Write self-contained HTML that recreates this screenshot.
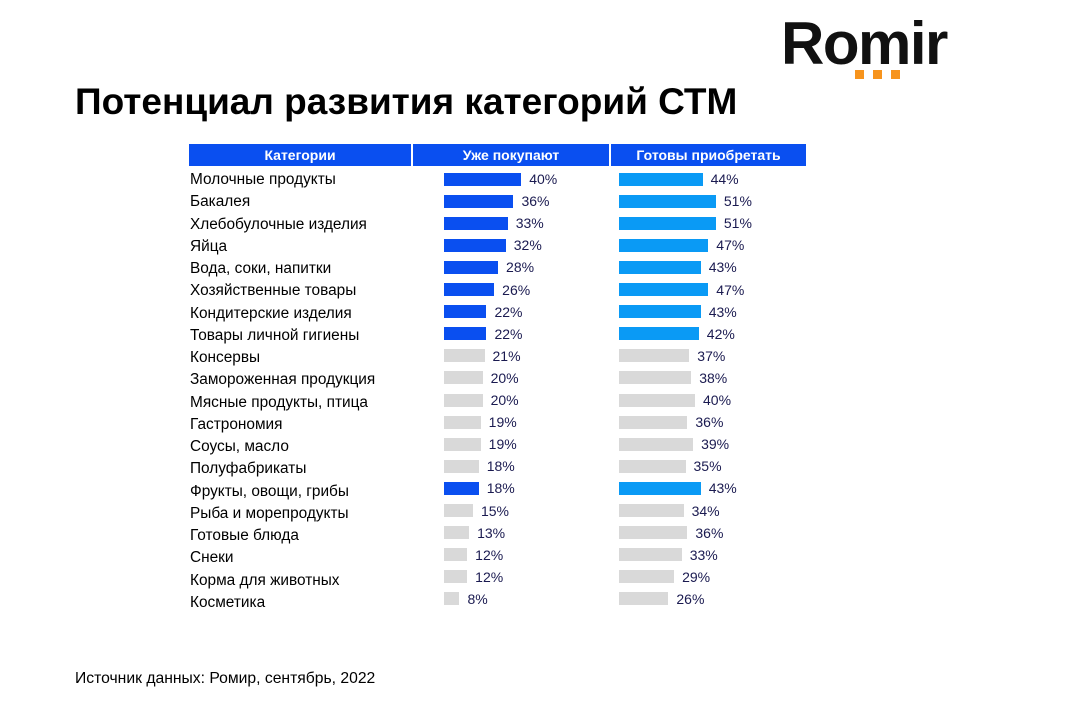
<!DOCTYPE html>
<html><head><meta charset="utf-8"><style>
body{margin:0;width:1066px;height:720px;background:#fff;position:relative;overflow:hidden;font-family:"Liberation Sans",sans-serif}
.a{position:absolute;white-space:nowrap}
.h{position:absolute;top:144px;height:22px;background:#0a4ff0;color:#fff;font-weight:bold;font-size:14px;line-height:22px;text-align:center}
.c{position:absolute;left:190px;font-size:15.4px;color:#000;line-height:18px;white-space:nowrap}
.b{position:absolute;height:13px}
.v{position:absolute;font-size:14px;color:#1a1a50;line-height:16px}
</style></head><body>
<div class="a" style="left:781px;top:9px;font-size:60px;font-weight:bold;color:#111;letter-spacing:-1.5px;line-height:70px">Romir</div>
<div class="a" style="left:855px;top:70px;width:9px;height:9px;background:#f7941d"></div>
<div class="a" style="left:873px;top:70px;width:9px;height:9px;background:#f7941d"></div>
<div class="a" style="left:891px;top:70px;width:9px;height:9px;background:#f7941d"></div>
<div class="a" style="left:75px;top:80px;font-size:37px;font-weight:bold;color:#000;line-height:44px">Потенциал развития категорий СТМ</div>
<div class="h" style="left:189px;width:222px">Категории</div>
<div class="h" style="left:413px;width:196px">Уже покупают</div>
<div class="h" style="left:611px;width:195px">Готовы приобретать</div>
<div id="rows"></div>
<div class="a" style="left:75px;top:670px;font-size:15.7px;color:#000">Источник данных: Ромир, сентябрь, 2022</div>
<script>
var d=[["Молочные продукты",40,44,1],["Бакалея",36,51,1],["Хлебобулочные  изделия",33,51,1],["Яйца",32,47,1],["Вода, соки, напитки",28,43,1],["Хозяйственные товары",26,47,1],["Кондитерские изделия",22,43,1],["Товары личной гигиены",22,42,1],["Консервы",21,37,0],["Замороженная продукция",20,38,0],["Мясные продукты, птица",20,40,0],["Гастрономия",19,36,0],["Соусы, масло",19,39,0],["Полуфабрикаты",18,35,0],["Фрукты, овощи, грибы",18,43,1],["Рыба и морепродукты",15,34,0],["Готовые блюда",13,36,0],["Снеки",12,33,0],["Корма для животных",12,29,0],["Косметика",8,26,0]];
var h="";d.forEach(function(r,i){var y=179+i*22.1;var ty=180+i*22.25;
h+='<div class="c" style="top:'+(ty-9)+'px">'+r[0]+'</div>';
var w1=r[1]*1.93,w2=r[2]*1.9;
h+='<div class="b" style="left:444px;top:'+(y-6.5)+'px;width:'+w1+'px;background:'+(r[3]?'#0a4ff0':'#d9d9d9')+'"></div>';
h+='<div class="v" style="left:'+(444+w1+8)+'px;top:'+(y-8)+'px">'+r[1]+'%</div>';
h+='<div class="b" style="left:619px;top:'+(y-6.5)+'px;width:'+w2+'px;background:'+(r[3]?'#0a9af5':'#d9d9d9')+'"></div>';
h+='<div class="v" style="left:'+(619+w2+8)+'px;top:'+(y-8)+'px">'+r[2]+'%</div>';});
document.getElementById("rows").innerHTML=h;
</script>
</body></html>
